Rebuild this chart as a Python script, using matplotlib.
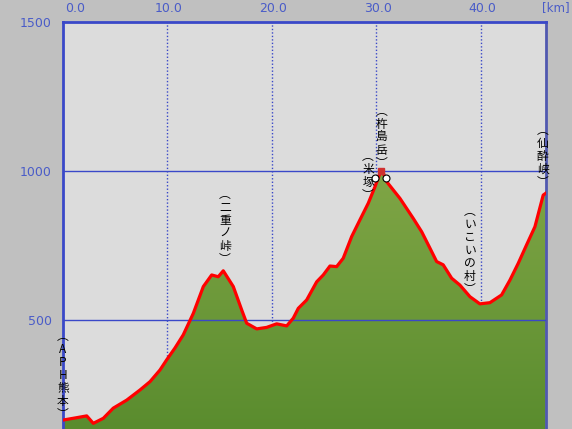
import numpy as np
import matplotlib
matplotlib.use("Agg")
import matplotlib.pyplot as plt
from matplotlib.colors import LinearSegmentedColormap
from matplotlib.patches import Polygon
import matplotlib.transforms as mtransforms

# 距離 [km] と標高 [m]
dist_km = [0.0, 1.15, 2.27, 2.90, 3.86, 4.81, 6.10, 7.37, 8.33, 9.28, 9.92,
           10.72, 11.51, 12.47, 13.43, 14.23, 14.86, 15.34, 16.30, 17.10, 17.58,
           18.54, 19.49, 20.45, 21.41, 22.04, 22.52, 23.32, 24.28, 24.91, 25.55,
           26.19, 26.82, 27.63, 28.42, 29.22, 29.86, 30.33, 30.60, 30.98, 32.25,
           33.52, 34.33, 35.12, 35.76, 36.39, 37.20, 37.99, 38.95, 39.90, 40.86,
           41.98, 42.78, 43.57, 44.37, 45.17, 45.96, 46.2]
elev_m = [164, 171, 178, 153, 170, 204, 231, 265, 293, 332, 366,
          406, 450, 522, 612, 651, 645, 665, 612, 534, 489,
          470, 475, 487, 480, 506, 539, 567, 628, 651, 681,
          679, 707, 780, 836, 892, 947, 992, 998, 964, 908,
          841, 796, 741, 696, 685, 640, 617, 578, 554, 558,
          584, 634, 690, 752, 813, 919, 925]

# 地点ラベル
place_names = ["(APH熊本)", "(二重ノ峠)", "(杵島岳)", "(米塚)", "(いこいの村)", "(仙酔峡)"]
place_km = [0.0, 15.5, 30.5, 29.2, 38.95, 45.9]
place_elev = [315, 812, 1114, 983, 732, 1050]

x_ticks = [0, 10, 20, 30, 40]
y_ticks = [500, 1000, 1500]

blue = "#3a48c8"
label_blue = "#4a5cc8"

fig = plt.figure(figsize=(5.72, 4.29), dpi=100, facecolor="#c0c0c0")
ax = fig.add_axes([63 / 572, 0, (545.7 - 63) / 572, 1 - 22 / 429])
ax.set_facecolor("#dcdcdc")
ax.set_xlim(0, 46.2)
ax.set_ylim(134, 1500)

# グラデーション付きの塗りつぶし
cmap = LinearSegmentedColormap.from_list("g", ["#5a8c2e", "#80a646"])
grad = np.linspace(0, 1, 256).reshape(-1, 1)
im = ax.imshow(grad, cmap=cmap, aspect="auto", origin="lower",
               extent=[0, 46.2, 134, 1000], zorder=2)
poly = Polygon(list(zip(dist_km, elev_m)) + [(46.2, 100), (0, 100)],
               closed=True, transform=ax.transData, facecolor="none", edgecolor="none")
ax.add_patch(poly)
im.set_clip_path(poly)

ax.plot(dist_km, elev_m, color="#ff0000", lw=2.3, zorder=4, solid_joinstyle="round")

# グリッド
for xv in x_ticks[1:]:
    ax.axvline(xv, color=blue, lw=1, ls=(0, (1, 1.5)), zorder=1)
for yv in [500, 1000]:
    ax.axhline(yv, color=blue, lw=1, zorder=3)

ax.spines["top"].set_color(blue)
ax.spines["top"].set_linewidth(2)
ax.spines["left"].set_color(blue)
ax.spines["left"].set_linewidth(2)
ax.spines["left"].set_linestyle((0, (1, 1)))
ax.spines["right"].set_color("#5058b0")
ax.spines["right"].set_linewidth(2)
ax.spines["bottom"].set_visible(False)

ax.set_xticks([])
ax.set_yticks(y_ticks)
ax.set_yticklabels([str(v) for v in y_ticks])
ax.tick_params(axis="y", length=0, pad=8, labelcolor=label_blue, labelsize=9)

# 上側の距離ラベル
trans = mtransforms.blended_transform_factory(ax.transData, ax.transAxes)
for xv in x_ticks:
    xpos = xv + 1.15 if xv == 0 else xv + 0.15
    ax.text(xpos, 1.0 + 7 / 407, f"{xv:.1f}", transform=trans, ha="center", va="bottom",
            color=label_blue, fontsize=9, clip_on=False)
fig.text(570 / 572, 1 - 8 / 429, "[km]", ha="right", va="center",
         color=label_blue, fontsize=8.5)

# 縦書きラベル
for name, xk, ye in zip(place_names, place_km, place_elev):
    s = name.replace("(", "︵").replace(")", "︶")
    ax.text(xk, ye, "\n".join(s), ha="center", va="center", fontsize=8.5,
            linespacing=1.0, color="black", zorder=6, clip_on=False,
            family=["Noto Sans CJK JP", "DejaVu Sans"])

# 自転車アイコン（山頂付近）
ax.plot([29.9, 30.9], [975, 975], "o", ms=5, mfc="white", mec="black", mew=0.8, zorder=7)
ax.plot([30.4], [1000], "s", ms=4, color="#d03030", zorder=7)

fig.savefig("out.png", dpi=100, facecolor=fig.get_facecolor())
